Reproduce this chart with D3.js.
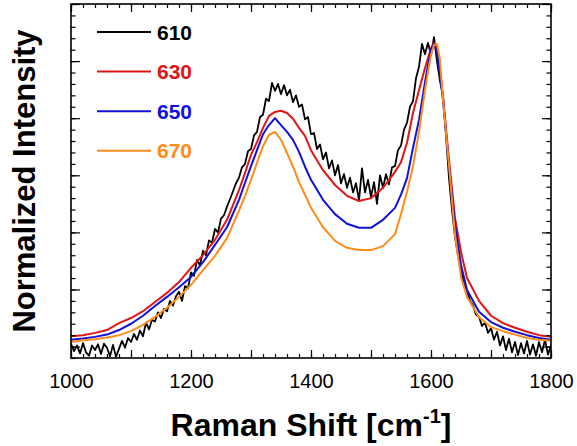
<!DOCTYPE html>
<html>
<head>
<meta charset="utf-8">
<script src="https://cdn.jsdelivr.net/npm/d3@7"></script>
<style>
  body { margin: 0; background: #fff; }
  text { font-family: "Liberation Sans", Arial, Helvetica, sans-serif; }
</style>
</head>
<body>
<div id="chart"></div>
<script>
// Raman shift grid for the smooth spectra (cm-1)
const shiftGrid = [1000, 1020, 1040, 1060, 1080, 1100, 1120, 1140, 1160, 1180, 1200, 1220, 1240, 1260, 1280,
  1290, 1300, 1310, 1320, 1330, 1340, 1350, 1360, 1370, 1380, 1390, 1400,
  1420, 1440, 1460, 1480, 1500, 1520, 1540,
  1550, 1560, 1570, 1580, 1590,
  1595, 1600, 1605, 1610, 1615, 1620,
  1630, 1640, 1650, 1660,
  1680, 1700, 1720, 1740, 1760, 1780, 1800];

const int630 = [0.18, 0.20, 0.24, 0.29, 0.41, 0.50, 0.62, 0.78, 0.94, 1.13, 1.38, 1.60, 1.87, 2.22, 2.74,
  3.04, 3.36, 3.58, 3.83, 4.04, 4.11, 4.13, 4.09, 3.99, 3.83, 3.69, 3.44,
  3.09, 2.83, 2.64, 2.55, 2.60, 2.78, 3.06,
  3.23, 3.57, 4.09, 4.49, 4.88,
  5.05, 5.23, 5.32, 5.23, 4.84, 4.37,
  3.27, 2.25, 1.66, 1.20,
  0.80, 0.54, 0.41, 0.33, 0.26, 0.20, 0.17];

const int650 = [0.12, 0.14, 0.17, 0.21, 0.29, 0.40, 0.54, 0.71, 0.87, 1.04, 1.22, 1.48, 1.78, 2.09, 2.57,
  2.87, 3.16, 3.44, 3.72, 3.88, 4.00, 3.88, 3.76, 3.62, 3.41, 3.15, 2.92,
  2.57, 2.32, 2.15, 2.08, 2.08, 2.22, 2.43,
  2.66, 2.95, 3.48, 3.97, 4.63,
  4.93, 5.20, 5.30, 5.16, 4.76, 4.32,
  3.18, 2.13, 1.43, 0.99,
  0.61, 0.43, 0.33, 0.26, 0.20, 0.15, 0.12];

const int670 = [0.08, 0.11, 0.13, 0.16, 0.20, 0.27, 0.38, 0.52, 0.68, 0.87, 1.08, 1.34, 1.59, 1.90, 2.38,
  2.64, 2.92, 3.22, 3.51, 3.71, 3.76, 3.62, 3.39, 3.15, 2.88, 2.66, 2.43,
  2.09, 1.85, 1.73, 1.69, 1.69, 1.76, 1.97,
  2.32, 2.71, 3.16, 3.76, 4.49,
  4.81, 5.11, 5.28, 5.30, 5.02, 4.32,
  3.18, 1.95, 1.22, 0.87,
  0.52, 0.34, 0.27, 0.21, 0.15, 0.12, 0.10];

// the 610 spectrum is noisy, read every 5 cm-1
const shift610 = d3.range(1000, 1801, 5);
const int610 = [
  0.05, -0.08, 0.02, -0.12, 0.06, -0.10, -0.16, 0.02, -0.06, 0.04, -0.13, 0.05, -0.02, -0.17, 0.03, -0.18, -0.04, 0.10, -0.02, 0.15,
  0.08, 0.22, 0.12, 0.28, 0.18, 0.42, 0.30, 0.47, 0.44, 0.60, 0.50, 0.66, 0.62, 0.80, 0.72, 0.88, 0.96, 0.80, 1.06, 1.02,
  1.30, 1.24, 1.52, 1.42, 1.68, 1.60, 1.86, 1.82, 2.06, 2.00, 2.24, 2.30, 2.45, 2.58, 2.72, 2.86, 2.96, 3.14, 3.20, 3.42,
  3.46, 3.70, 3.76, 4.02, 4.06, 4.34, 4.30, 4.62, 4.48, 4.60, 4.42, 4.58, 4.40, 4.50, 4.28, 4.40, 4.20, 4.24, 3.98, 4.02,
  3.72, 3.74, 3.46, 3.54, 3.28, 3.40, 3.12, 3.26, 3.00, 3.18, 2.86, 3.02, 2.78, 2.96, 2.70, 2.86, 2.56, 3.12, 2.70, 2.92,
  2.62, 2.88, 2.50, 3.00, 2.78, 3.02, 2.84, 3.14, 3.16, 3.44, 3.52, 3.80, 3.92, 4.20, 4.30, 4.70, 4.90, 5.30, 5.12, 5.32,
  5.10, 5.42, 5.00, 4.65, 4.40, 3.70, 2.95, 2.40, 1.92, 1.60, 1.32, 1.10, 0.98, 0.80, 0.72, 0.56, 0.52, 0.36, 0.42, 0.24,
  0.32, 0.12, 0.26, 0.02, 0.18, -0.06, 0.14, -0.10, 0.08, -0.15, 0.06, -0.12, 0.10, -0.14, 0.04, -0.16, 0.08, -0.10, 0.12, -0.14,
  0.02];

const seriesNames = ["610", "630", "650", "670"];
const seriesColors = ["#000000", "#e01515", "#1010dd", "#ff8c1a"];
const xTicksMajor = d3.range(1000, 1801, 100);
const xTicksMinor = d3.range(1000, 1801, 20);
const yTicksMajor = d3.range(0, 6.01, 1);
const yTicksMinor = d3.range(-0.2, 6.01, 0.2);

const width = 577;
const height = 446;
const plot = { left: 71, right: 551, top: 4, bottom: 358 };

const svg = d3.select("#chart").append("svg")
  .attr("width", width)
  .attr("height", height);

const x = d3.scaleLinear().domain([1000, 1800]).range([plot.left, plot.right]);
const y = d3.scaleLinear().domain([-0.2, 6.0]).range([plot.bottom, plot.top]);

svg.append("clipPath").attr("id", "clip")
  .append("rect")
  .attr("x", plot.left).attr("y", plot.top)
  .attr("width", plot.right - plot.left).attr("height", plot.bottom - plot.top);

const series = [
  { name: seriesNames[0], color: seriesColors[0], xs: shift610, ys: int610, w: 1.8 },
  { name: seriesNames[1], color: seriesColors[1], xs: shiftGrid, ys: int630, w: 2 },
  { name: seriesNames[2], color: seriesColors[2], xs: shiftGrid, ys: int650, w: 2 },
  { name: seriesNames[3], color: seriesColors[3], xs: shiftGrid, ys: int670, w: 2 },
];

const line = d3.line()
  .x((d) => x(d[0]))
  .y((d) => y(d[1]));

svg.append("g").attr("clip-path", "url(#clip)")
  .selectAll("path")
  .data(series)
  .enter()
  .append("path")
  .attr("d", (s) => line(s.xs.map((v, i) => [v, s.ys[i]])))
  .attr("fill", "none")
  .attr("stroke", (s) => s.color)
  .attr("stroke-width", (s) => s.w)
  .attr("stroke-linejoin", "round");

// axes with inward ticks on all four sides
function styleAxis(g) {
  g.select(".domain").remove();
  g.selectAll(".tick line").attr("stroke", "#000").attr("stroke-width", 1.2);
}

svg.append("g")
  .attr("transform", `translate(0,${plot.bottom})`)
  .call(d3.axisBottom(x).tickValues(xTicksMinor).tickSize(-4).tickFormat(""))
  .call(styleAxis);
svg.append("g")
  .attr("transform", `translate(0,${plot.bottom})`)
  .call(d3.axisBottom(x).tickValues(xTicksMajor).tickSize(-8).tickPadding(16)
    .tickFormat((d) => (d % 200 === 0 ? d : "")))
  .call(styleAxis)
  .selectAll("text")
  .attr("font-size", 20)
  .attr("fill", "#000");

svg.append("g")
  .attr("transform", `translate(0,${plot.top})`)
  .call(d3.axisTop(x).tickValues(xTicksMinor).tickSize(-4).tickFormat(""))
  .call(styleAxis);
svg.append("g")
  .attr("transform", `translate(0,${plot.top})`)
  .call(d3.axisTop(x).tickValues(xTicksMajor).tickSize(-8).tickFormat(""))
  .call(styleAxis);

svg.append("g")
  .attr("transform", `translate(${plot.left},0)`)
  .call(d3.axisLeft(y).tickValues(yTicksMinor).tickSize(-4.5).tickFormat(""))
  .call(styleAxis);
svg.append("g")
  .attr("transform", `translate(${plot.left},0)`)
  .call(d3.axisLeft(y).tickValues(yTicksMajor).tickSize(-9).tickFormat(""))
  .call(styleAxis);
svg.append("g")
  .attr("transform", `translate(${plot.right},0)`)
  .call(d3.axisRight(y).tickValues(yTicksMinor).tickSize(-4.5).tickFormat(""))
  .call(styleAxis);
svg.append("g")
  .attr("transform", `translate(${plot.right},0)`)
  .call(d3.axisRight(y).tickValues(yTicksMajor).tickSize(-9).tickFormat(""))
  .call(styleAxis);

svg.append("rect")
  .attr("x", plot.left).attr("y", plot.top)
  .attr("width", plot.right - plot.left).attr("height", plot.bottom - plot.top)
  .attr("fill", "none")
  .attr("stroke", "#000")
  .attr("stroke-width", 1.6);

// legend
const legend = svg.append("g").attr("transform", "translate(97,32)");
const item = legend.selectAll("g")
  .data(series)
  .enter()
  .append("g")
  .attr("transform", (d, i) => `translate(0,${i * 39.6})`);
item.append("line")
  .attr("x1", 0).attr("x2", 54)
  .attr("stroke", (d) => d.color)
  .attr("stroke-width", (d) => d.w);
item.append("text")
  .attr("x", 60)
  .attr("y", 7.5)
  .attr("font-size", 21)
  .attr("font-weight", "bold")
  .attr("fill", (d) => d.color)
  .text((d) => d.name);

// axis titles
const xt = svg.append("text")
  .attr("x", (plot.left + plot.right) / 2)
  .attr("y", 436)
  .attr("text-anchor", "middle")
  .attr("font-size", 32)
  .attr("font-weight", "bold");
xt.append("tspan").text("Raman Shift [cm");
xt.append("tspan").attr("font-size", 20).attr("dy", -13).text("-1");
xt.append("tspan").attr("dy", 13).text("]");

svg.append("text")
  .attr("transform", "translate(35,181) rotate(-90)")
  .attr("text-anchor", "middle")
  .attr("font-size", 31)
  .attr("font-weight", "bold")
  .text("Normalized Intensity");
</script>
</body>
</html>
